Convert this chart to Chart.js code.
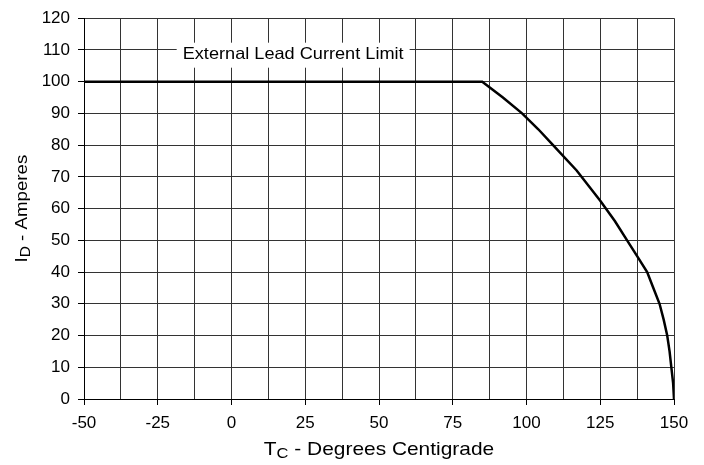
<!DOCTYPE html>
<html>
<head>
<meta charset="utf-8">
<script src="https://cdn.jsdelivr.net/npm/chart.js@4/dist/chart.umd.min.js"></script>
<style>
  html, body { margin: 0; padding: 0; background: #fff; }
  #wrap { width: 704px; height: 465px; position: relative; }
</style>
</head>
<body>
<div id="wrap"><canvas id="derating"></canvas></div>
<script>
// case temperature (°C) vs max drain current (A)
const tempC = [-50, 85, 92, 98.5, 104, 109, 117, 125, 130, 134.1, 137.5, 140.9, 143, 145.1, 146.5, 147.7, 148.5, 149.1, 149.7, 150];
const currentA = [100, 100, 95, 90, 85, 80, 72, 62.5, 56, 50, 45, 40, 35, 30, 25, 20, 15, 10, 5, 0];

const xRange = [-50, 150];
const yRange = [0, 120];
const limitLabel = 'External Lead Current Limit';
const limitLabelAt = [20.9, 108.5];

const FONT = 'Arial, "Liberation Sans", sans-serif';
const STRETCH = 1.1;

function stretchedText(ctx, text, x, y, size, align) {
    ctx.save();
    ctx.font = size + 'px ' + FONT;
    const w = ctx.measureText(text).width * STRETCH;
    let left = x;
    if (align === 'center') left = x - w / 2;
    if (align === 'right') left = x - w;
    ctx.translate(left, y);
    ctx.scale(STRETCH, 1);
    ctx.textAlign = 'left';
    ctx.fillText(text, 0, 0);
    ctx.restore();
    return w;
}

// main text + subscript, e.g. T + C
function subTitle(ctx, main, sub, rest, cx, cy, size) {
    ctx.save();
    ctx.fillStyle = '#000';
    ctx.textBaseline = 'middle';
    ctx.font = size + 'px ' + FONT;
    const wMain = ctx.measureText(main).width * STRETCH;
    const wRest = ctx.measureText(rest).width * STRETCH;
    ctx.font = Math.round(size * 0.8) + 'px ' + FONT;
    const wSub = ctx.measureText(sub).width * STRETCH;
    let x = cx - (wMain + wSub + wRest) / 2;
    x += stretchedText(ctx, main, x, cy, size, 'left');
    x += stretchedText(ctx, sub, x, cy + 4, Math.round(size * 0.8), 'left');
    stretchedText(ctx, rest, x, cy, size, 'left');
    ctx.restore();
}

const textPlugin = {
    id: 'textPlugin',
    beforeDatasetsDraw(chart) {
        const { ctx, scales: { x, y } } = chart;
        const px = x.getPixelForValue(limitLabelAt[0]);
        const py = y.getPixelForValue(limitLabelAt[1]);
        ctx.save();
        ctx.font = '16.5px ' + FONT;
        const w = ctx.measureText(limitLabel).width * STRETCH;
        ctx.fillStyle = '#fff';
        ctx.fillRect(px - w / 2 - 6, py - 12, w + 12, 25);
        ctx.fillStyle = '#000';
        ctx.textBaseline = 'middle';
        stretchedText(ctx, limitLabel, px, py, 16.5, 'center');
        ctx.restore();
    },
    afterDraw(chart) {
        const { ctx, chartArea } = chart;
        const cx = (chartArea.left + chartArea.right) / 2;
        subTitle(ctx, 'T', 'C', ' - Degrees Centigrade', cx, 450, 19);
        ctx.save();
        ctx.translate(22, (chartArea.top + chartArea.bottom) / 2);
        ctx.rotate(-Math.PI / 2);
        subTitle(ctx, 'I', 'D', ' - Amperes', 0, 0, 17);
        ctx.restore();
    }
};

new Chart(document.getElementById('derating').getContext('2d'), {
    type: 'line',
    data: {
        datasets: [{
            data: tempC.map((t, i) => ({ x: t, y: currentA[i] })),
            borderColor: '#000',
            borderWidth: 2.5,
            pointRadius: 0,
            tension: 0,
            fill: false
        }]
    },
    options: {
        responsive: true,
        maintainAspectRatio: false,
        animation: false,
        layout: { padding: { top: 12, right: 30, left: 0, bottom: 0 } },
        plugins: { legend: { display: false }, tooltip: { enabled: false } },
        scales: {
            x: {
                type: 'linear',
                min: xRange[0],
                max: xRange[1],
                afterFit(scale) { scale.height = 66; },
                border: { color: '#000', width: 1 },
                grid: {
                    color: '#333',
                    lineWidth: 1,
                    tickLength: 6,
                    tickColor: c => (c.tick && c.tick.value % 25 === 0) ? '#000' : 'rgba(0,0,0,0)'
                },
                ticks: {
                    stepSize: 12.5,
                    autoSkip: false,
                    maxRotation: 0,
                    padding: 8,
                    color: '#000',
                    font: { family: FONT, size: 17 },
                    callback: v => (v % 25 === 0 ? v : '')
                }
            },
            y: {
                min: yRange[0],
                max: yRange[1],
                afterFit(scale) { scale.width = 84; },
                border: { color: '#000', width: 1 },
                grid: { color: '#333', lineWidth: 1, tickLength: 6, tickColor: '#000' },
                ticks: {
                    stepSize: 10,
                    padding: 8,
                    color: '#000',
                    font: { family: FONT, size: 17 }
                }
            }
        }
    },
    plugins: [textPlugin]
});
</script>
</body>
</html>
